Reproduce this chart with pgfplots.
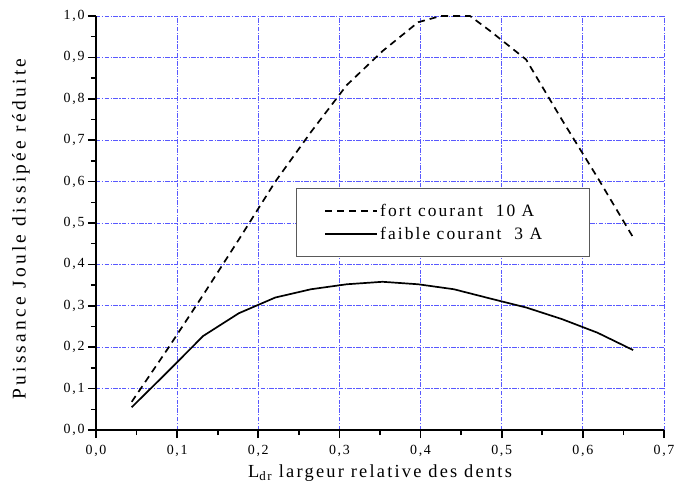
\documentclass[border=0pt]{standalone}
\usepackage{pgfplots}
\pgfplotsset{compat=1.18}
\usepackage{fontspec}
\setmainfont{Liberation Serif}[LetterSpace=12]
\begin{document}
\begin{tikzpicture}
\useasboundingbox (-96bp,-67bp) rectangle (579bp,430bp);
\begin{axis}[
  scale only axis,
  width=568bp, height=414bp,
  xmin=0, xmax=0.7, ymin=0, ymax=1.0,
  xtick={0,0.1,...,0.7}, ytick={0,0.1,...,1.0},
  minor x tick num=1, minor y tick num=1,
  axis x line*=bottom, axis y line*=left,
  axis line style={-, line width=2.2pt, black},
  tick align=outside,
  major tick length=8bp, minor tick length=5bp,
  every tick/.style={black, line width=1.6pt},
  grid=major,
  major grid style={blue!65, line width=0.8pt, dash pattern=on 4.5pt off 1.5pt on 1.2pt off 1.5pt},
  /pgf/number format/.cd, use comma, fixed, fixed zerofill, precision=1, assume math mode=true,
  /pgfplots/.cd,
  tick label style={font=\fontsize{14}{16}\selectfont, black},
  xticklabel style={yshift=-4bp},
  label style={font=\fontsize{18.5}{20}\selectfont},
  xlabel={L\textsubscript{dr} largeur relative des dents},
  ylabel={\addfontfeatures{LetterSpace=17}Puissance Joule dissipée réduite},
  xlabel style={at={(axis description cs:0.5,-0.104)}, anchor=center},
  ylabel style={at={(axis description cs:-0.132,0.485)}, anchor=center, font=\fontsize{19.5}{21}\selectfont},
  legend style={at={(rel axis cs:0.352,0.585)}, anchor=north west,
    draw=gray!70!black, line width=1pt, fill=white,
    font=\fontsize{17.5}{19}\selectfont, inner xsep=28bp, inner ysep=14bp,
    row sep=5pt},
  legend cell align=left,
  legend image code/.code={\draw[#1, line width=1.7pt] (0bp,0bp) -- (52bp,0bp);},
]
\addplot[black, line width=1.7pt, dash pattern=on 7pt off 5pt] coordinates {
(0.044,0.068) (0.088,0.195) (0.132,0.326) (0.176,0.46) (0.221,0.600)
(0.265,0.720) (0.309,0.833) (0.353,0.915) (0.397,0.985) (0.425,1.0) (0.461,1.0)
(0.485,0.965) (0.530,0.895) (0.574,0.750) (0.618,0.610) (0.662,0.465)
};
\addlegendentry{fort courant~~10 A}
\addplot[black, line width=1.7pt] coordinates {
(0.044,0.055) (0.088,0.140) (0.132,0.227) (0.176,0.282) (0.221,0.320)
(0.265,0.340) (0.309,0.352) (0.353,0.358) (0.397,0.352) (0.441,0.340)
(0.485,0.318) (0.530,0.296) (0.574,0.268) (0.618,0.235) (0.662,0.193)
};
\addlegendentry{faible courant~~3 A\hspace*{17bp}\null}
\end{axis}
\end{tikzpicture}
\end{document}
